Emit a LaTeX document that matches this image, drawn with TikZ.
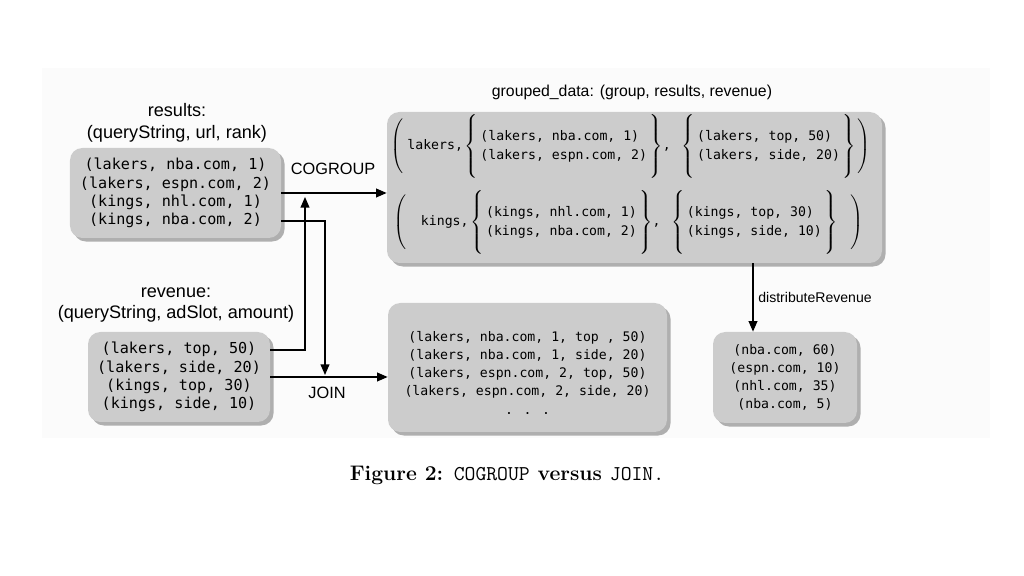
\documentclass[tikz,border=0pt]{standalone}
\usepackage{fontspec}
\setsansfont{Liberation Sans}
\newfontfamily\boxmono{DejaVu Sans Mono}
\usepackage{amsmath}
\usepackage{xcolor}
\usetikzlibrary{arrows.meta, positioning, shadows, calc}
\definecolor{boxgray}{RGB}{204, 204, 204}
\definecolor{panelgray}{RGB}{251, 251, 251}

% tuple bag and outer tuple parentheses
\newcommand{\setof}[2]{$\left\{\vrule height 19pt depth 17pt width 0pt\,\begin{tabular}{@{}l@{}}#1\\#2\end{tabular}\,\right\}$}
\newcommand{\opentuple}{$\left(\vrule height 17pt depth 13pt width 0pt\right.$}
\newcommand{\closetuple}{$\left.\vrule height 17pt depth 13pt width 0pt\right)$}

\begin{document}
\begin{tikzpicture}[
  every node/.style={inner sep=0pt},
  tuples/.style={fill=boxgray, rounded corners=7pt, align=center,
    drop shadow={shadow xshift=2pt, shadow yshift=-2pt, opacity=0.3, fill=black},
    font=\boxmono\fontsize{7.5}{10.4}\selectfont},
  bigtuples/.style={tuples, font=\boxmono\fontsize{8.6}{10.4}\selectfont},
  row/.style={font=\boxmono\fontsize{7.5}{10.4}\selectfont},
  title/.style={font=\sffamily\fontsize{10.3}{12.5}\selectfont, align=center},
  oplabel/.style={font=\sffamily\fontsize{9.3}{11}\selectfont},
  arrow/.style={-{Triangle[length=6pt, width=5pt]}, line width=0.75pt}
]
  \useasboundingbox (0, 0) rectangle (20.48, 11.52);
  \fill[panelgray] (0.84, 2.76) rectangle (19.8, 10.16);

  % Ingressi
  \node[title] (restitle) at (3.54, 9.06) {results:\\(queryString, url, rank)};
  \node[bigtuples, minimum width=4.22cm, minimum height=1.8cm] (results) at (3.51, 7.66)
    {(lakers, nba.com, 1)\\(lakers, espn.com, 2)\\(kings, nhl.com, 1)\\(kings, nba.com, 2)};
  \node[title] (revtitle) at (3.52, 5.42) {revenue:\\(queryString, adSlot, amount)};
  \node[bigtuples, minimum width=3.64cm, minimum height=1.8cm] (revenue) at (3.58, 3.98)
    {(lakers, top, 50)\\(lakers, side, 20)\\(kings, top, 30)\\(kings, side, 10)};

  % COGROUP
  \node[title, font=\sffamily\fontsize{9}{11}\selectfont] (grptitle) at (12.64, 9.68) {grouped\_data: (group, results, revenue)};
  \node[tuples, minimum width=9.9cm, minimum height=3.02cm] (grouped) at (12.69, 7.77) {};
  \node[row, anchor=west] (rowlakers) at (7.8, 8.58)
    {\opentuple\hspace{1pt}lakers,\hspace{1pt}\setof{(lakers, nba.com, 1)}{(lakers, espn.com, 2)},\hspace{6pt}\setof{(lakers, top, 50)}{(lakers, side, 20)}\closetuple};
  \node[row, anchor=west] (rowkings) at (7.86, 7.06)
    {\opentuple\hspace{7pt}kings,\hspace{1pt}\setof{(kings, nhl.com, 1)}{(kings, nba.com, 2)},\hspace{6pt}\setof{(kings, top, 30)}{(kings, side, 10)}\hspace{6pt}\closetuple};

  % JOIN e distributeRevenue
  \node[tuples, minimum width=5.58cm, minimum height=2.58cm] (join) at (10.55, 4.17)
    {\rule{0pt}{11.5pt}(lakers, nba.com, 1, top , 50)\\(lakers, nba.com, 1, side, 20)\\(lakers, espn.com, 2, top, 50)\\(lakers, espn.com, 2, side, 20)\\. . .};
  \node[tuples, minimum width=2.88cm, minimum height=1.82cm] (perurl) at (15.70, 3.97)
    {(nba.com, 60)\\(espn.com, 10)\\(nhl.com, 35)\\(nba.com, 5)};

  \node[oplabel] (cglabel) at (6.66, 8.14) {COGROUP};
  \node[oplabel] (jnlabel) at (6.54, 3.66) {JOIN};
  \node[oplabel, font=\sffamily\fontsize{8}{10}\selectfont, anchor=west] (distlabel) at (15.16, 5.58) {distributeRevenue};

  \coordinate (cgup) at (6.10, 7.58);
  \coordinate (jndown) at (6.50, 4.02);

  \draw[arrow] (results.east) -- (results.east -| grouped.west);
  \draw[arrow] ([yshift=0.54cm]revenue.east) -| (cgup);
  \draw[arrow] ([yshift=-0.56cm]results.east) -| (jndown);
  \draw[arrow] (revenue.east) -- (revenue.east -| join.west);
  \draw[arrow] ($(grouped.south)+(2.37, 0)$) -- ($(perurl.north)+(-0.64, 0)$);

  % Didascalia
  \node[font=\bfseries\fontsize{12}{14}\selectfont] (caption) at (10.14, 2.02)
    {Figure 2: {\normalfont\ttfamily COGROUP} versus {\normalfont\ttfamily JOIN.}};

\end{tikzpicture}
\end{document}
